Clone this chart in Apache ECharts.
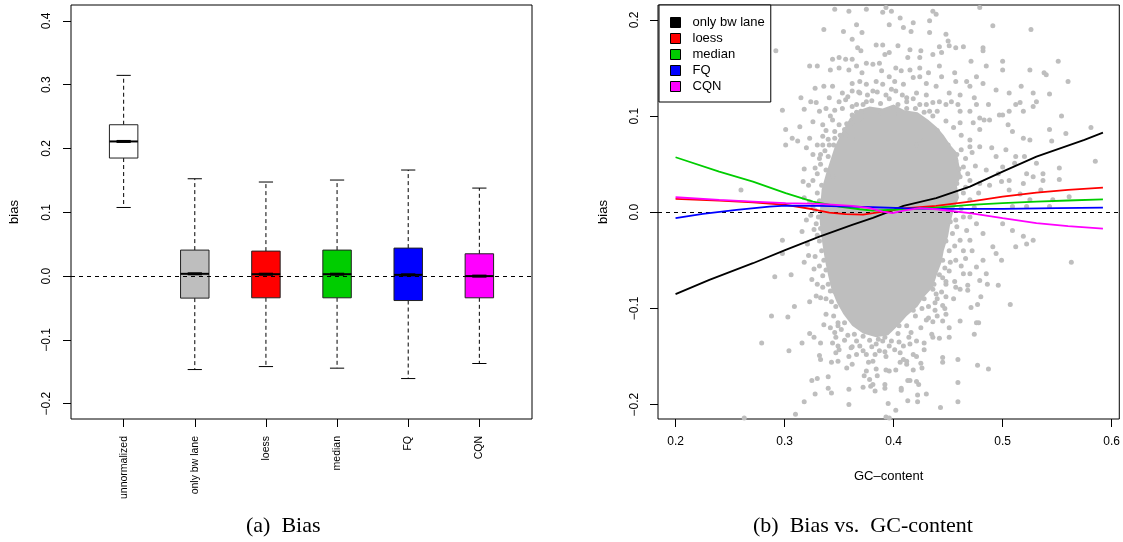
<!DOCTYPE html>
<html>
<head>
<meta charset="utf-8">
<script src="https://cdn.jsdelivr.net/npm/echarts@6/dist/echarts.min.js"></script>
<style>
html,body{margin:0;padding:0;background:#fff}
#chart{width:1123px;height:542px}
</style>
</head>
<body>
<div id="chart"></div>
<script>
// ---- panel (a): bias per method ----
var methods = ['unnormalized', 'only bw lane', 'loess', 'median', 'FQ', 'CQN'];
var boxColors = ['#FFFFFF', '#BEBEBE', '#FF0000', '#00CD00', '#0000FF', '#FF00FF'];
var whiskerLow = [0.1076, -0.1465, -0.1418, -0.1443, -0.1606, -0.137];
var quart1     = [0.1851, -0.0345, -0.034, -0.034, -0.0383, -0.034];
var medians    = [0.2111, 0.0036, 0.003, 0.003, 0.002, 0.0];
var quart3     = [0.2373, 0.0408, 0.0392, 0.0408, 0.0439, 0.035];
var whiskerHigh= [0.3147, 0.1526, 0.1475, 0.1506, 0.1663, 0.138];
var biasTicks  = [-0.2, -0.1, 0, 0.1, 0.2, 0.3, 0.4];

// ---- panel (b): bias vs GC-content ----
var gcTicks = [0.2, 0.3, 0.4, 0.5, 0.6];
var biasTicksB = [-0.2, -0.1, 0, 0.1, 0.2];
var lineNames = ['only bw lane', 'loess', 'median', 'FQ', 'CQN'];
var lineColors = ['#000000', '#FF0000', '#00CD00', '#0000FF', '#FF00FF'];

var bwLaneLine = [[0.200,-0.0852],[0.231,-0.0703],[0.271,-0.053],[0.301,-0.0391],[0.332,-0.0253],[0.362,-0.0132],
  [0.381,-0.0058],[0.396,0.0007],[0.409,0.0066],[0.439,0.0146],[0.470,0.0267],[0.500,0.0423],[0.531,0.0578],
  [0.575,0.0752],[0.592,0.0827]];
var loessLine = [[0.200,0.0139],[0.240,0.0121],[0.271,0.0104],[0.301,0.0076],[0.326,0.0031],[0.341,-0.0003],
  [0.356,-0.002],[0.372,-0.0024],[0.381,-0.001],[0.395,0.0015],[0.409,0.004],[0.439,0.0066],[0.470,0.0111],
  [0.500,0.0163],[0.531,0.0205],[0.560,0.0232],[0.592,0.0256]];
var medianLine = [[0.200,0.0572],[0.240,0.0423],[0.271,0.0319],[0.301,0.0198],[0.326,0.0111],[0.350,0.0059],
  [0.369,0.0031],[0.381,0.0017],[0.409,0.0031],[0.439,0.0049],[0.470,0.0076],[0.500,0.0094],[0.531,0.011],
  [0.560,0.0122],[0.592,0.0133]];
var fqLine = [[0.200,-0.0062],[0.225,-0.0017],[0.256,0.0024],[0.286,0.0059],[0.301,0.0069],[0.332,0.0066],
  [0.362,0.0059],[0.381,0.0052],[0.409,0.0042],[0.439,0.0035],[0.500,0.0035],[0.550,0.0042],[0.592,0.0048]];
var cqnLine = [[0.200,0.0156],[0.240,0.0128],[0.271,0.0111],[0.301,0.0094],[0.332,0.0087],[0.362,0.0066],
  [0.378,0.0042],[0.390,0.0007],[0.399,-0.001],[0.409,0.0017],[0.424,0.0042],[0.439,0.0031],[0.470,-0.001],
  [0.500,-0.0062],[0.531,-0.0114],[0.560,-0.0145],[0.592,-0.017]];

// outline of the solid grey core of the point cloud
var cloudCore = [[0.360,0.098],[0.368,0.106],[0.378,0.110],[0.390,0.108],[0.400,0.112],[0.410,0.106],[0.422,0.104],
  [0.432,0.096],[0.440,0.088],[0.446,0.080],[0.452,0.070],[0.458,0.062],[0.460,0.050],[0.462,0.038],[0.458,0.028],
  [0.460,0.015],[0.455,0.002],[0.452,-0.012],[0.450,-0.025],[0.446,-0.040],[0.444,-0.052],[0.440,-0.064],
  [0.436,-0.078],[0.428,-0.088],[0.422,-0.098],[0.412,-0.108],[0.404,-0.118],[0.395,-0.128],[0.384,-0.130],
  [0.372,-0.126],[0.362,-0.118],[0.354,-0.106],[0.348,-0.094],[0.343,-0.080],[0.340,-0.066],[0.337,-0.050],
  [0.335,-0.035],[0.333,-0.020],[0.332,-0.005],[0.333,0.010],[0.334,0.024],[0.338,0.040],[0.342,0.054],
  [0.346,0.068],[0.352,0.082]];

// individual points outside the core
var gcPoints = [
  [0.346,0.211],[0.359,0.209],[0.375,0.211],[0.336,0.190],[0.354,0.188],[0.366,0.195],[0.371,0.187],[0.362,0.180],
  [0.292,0.168],[0.367,0.171],[0.370,0.168],[0.344,0.159],[0.350,0.161],[0.356,0.159],[0.362,0.159],[0.366,0.152],
  [0.375,0.155],[0.323,0.152],[0.330,0.152],[0.342,0.148],[0.350,0.150],[0.359,0.148],[0.371,0.145],[0.362,0.134],
  [0.369,0.136],[0.375,0.133],[0.328,0.129],[0.336,0.131],[0.344,0.131],[0.353,0.124],[0.362,0.126],[0.369,0.124],
  [0.376,0.122],[0.315,0.119],[0.324,0.115],[0.329,0.114],[0.341,0.119],[0.350,0.115],[0.356,0.117],[0.366,0.112],
  [0.375,0.115],[0.298,0.106],[0.318,0.107],[0.332,0.105],[0.338,0.108],[0.346,0.106],[0.353,0.108],[0.362,0.101],
  [0.370,0.105],[0.301,0.086],[0.314,0.089],[0.326,0.094],[0.335,0.091],[0.344,0.096],[0.350,0.091],[0.355,0.086],
  [0.362,0.093],[0.372,0.094],[0.307,0.077],[0.323,0.077],[0.335,0.079],[0.346,0.077],[0.356,0.080],[0.366,0.077],
  [0.393,0.213],[0.398,0.209],[0.390,0.208],[0.436,0.209],[0.439,0.206],[0.479,0.213],[0.491,0.194],[0.526,0.190],
  [0.396,0.195],[0.406,0.202],[0.409,0.192],[0.418,0.197],[0.416,0.188],[0.433,0.199],[0.433,0.187],[0.448,0.185],
  [0.450,0.178],[0.451,0.173],[0.457,0.171],[0.464,0.172],[0.482,0.171],[0.482,0.168],[0.384,0.174],[0.390,0.174],
  [0.404,0.173],[0.415,0.169],[0.425,0.168],[0.442,0.172],[0.392,0.164],[0.396,0.166],[0.413,0.161],[0.424,0.161],
  [0.436,0.164],[0.444,0.166],[0.471,0.157],[0.485,0.152],[0.500,0.157],[0.500,0.148],[0.525,0.148],[0.538,0.145],
  [0.540,0.143],[0.551,0.157],[0.560,0.136],[0.381,0.154],[0.387,0.155],[0.389,0.147],[0.402,0.150],[0.407,0.147],
  [0.415,0.148],[0.424,0.150],[0.432,0.145],[0.442,0.152],[0.444,0.141],[0.456,0.145],[0.457,0.136],[0.467,0.136],
  [0.476,0.141],[0.482,0.134],[0.470,0.131],[0.494,0.127],[0.506,0.124],[0.517,0.131],[0.528,0.124],[0.543,0.123],
  [0.384,0.136],[0.390,0.133],[0.396,0.141],[0.401,0.136],[0.409,0.133],[0.418,0.140],[0.424,0.141],[0.430,0.134],
  [0.439,0.131],[0.451,0.124],[0.461,0.122],[0.453,0.115],[0.459,0.112],[0.474,0.119],[0.476,0.112],[0.487,0.112],
  [0.497,0.101],[0.500,0.101],[0.506,0.105],[0.512,0.112],[0.516,0.114],[0.519,0.105],[0.528,0.110],[0.531,0.115],
  [0.554,0.100],[0.381,0.126],[0.393,0.122],[0.402,0.126],[0.412,0.119],[0.421,0.124],[0.430,0.122],[0.436,0.114],
  [0.442,0.115],[0.448,0.112],[0.424,0.112],[0.433,0.105],[0.412,0.108],[0.461,0.105],[0.470,0.105],[0.479,0.098],
  [0.483,0.096],[0.488,0.096],[0.473,0.093],[0.461,0.093],[0.479,0.086],[0.505,0.091],[0.509,0.084],[0.519,0.077],
  [0.525,0.075],[0.543,0.086],[0.558,0.082],[0.545,0.074],
  [0.301,0.070],[0.312,0.074],[0.320,0.067],[0.335,0.070],[0.341,0.070],[0.333,0.060],[0.317,0.032],[0.260,0.023],
  [0.323,0.011],[0.330,0.020],[0.329,-0.012],[0.333,-0.017],[0.330,-0.024],[0.298,-0.029],[0.298,-0.043],
  [0.321,-0.033],[0.327,-0.059],[0.291,-0.067],[0.306,-0.065],[0.338,0.044],[0.344,0.037],
  [0.421,0.070],[0.428,0.074],[0.470,0.068],[0.479,0.068],[0.490,0.067],[0.494,0.058],[0.503,0.065],[0.512,0.058],
  [0.520,0.058],[0.531,0.051],[0.537,0.040],[0.552,0.046],[0.552,0.034],[0.522,0.040],[0.511,0.051],[0.500,0.047],
  [0.496,0.040],[0.485,0.044],[0.479,0.030],[0.488,0.028],[0.499,0.032],[0.506,0.033],[0.519,0.030],[0.528,0.037],
  [0.537,0.033],[0.506,0.023],[0.516,0.019],[0.525,0.013],[0.535,0.023],[0.543,0.006],[0.546,0.013],[0.561,0.016],
  [0.522,0.006],[0.509,0.006],[0.500,-0.012],[0.509,-0.019],[0.519,-0.025],[0.528,-0.029],[0.512,-0.036],
  [0.522,-0.033],[0.491,-0.036],[0.494,-0.043],[0.499,-0.050],[0.482,-0.050],[0.476,-0.057],[0.470,-0.064],
  [0.485,-0.064],[0.563,-0.052],[0.464,-0.040],[0.470,-0.029],[0.467,-0.019],[0.476,-0.012],[0.482,-0.022],
  [0.457,0.054],[0.464,0.047],[0.461,0.037],[0.470,0.033],[0.454,0.023],[0.464,0.020],[0.470,0.013],[0.457,-0.008],
  [0.464,-0.005],[0.454,-0.022],[0.461,-0.029],[0.451,-0.040],[0.457,-0.050],[0.451,-0.061],[0.464,-0.064],
  [0.445,-0.068],
  [0.335,-0.078],[0.329,-0.087],[0.333,-0.089],[0.338,-0.090],[0.323,-0.093],[0.309,-0.098],[0.288,-0.108],
  [0.303,-0.109],[0.338,-0.106],[0.336,-0.117],[0.349,-0.115],[0.349,-0.118],[0.323,-0.126],[0.327,-0.130],
  [0.333,-0.136],[0.346,-0.125],[0.347,-0.130],[0.344,-0.136],[0.316,-0.136],[0.279,-0.136],[0.304,-0.144],
  [0.332,-0.149],[0.333,-0.153],[0.349,-0.139],[0.347,-0.146],[0.350,-0.143],[0.343,-0.156],[0.349,-0.155],
  [0.357,-0.162],[0.362,-0.158],[0.359,-0.150],[0.366,-0.148],[0.372,-0.144],[0.361,-0.141],[0.369,-0.139],
  [0.325,-0.175],[0.330,-0.173],[0.340,-0.171],[0.340,-0.183],[0.343,-0.188],[0.328,-0.189],[0.318,-0.197],
  [0.359,-0.184],[0.359,-0.200],[0.310,-0.210],[0.263,-0.214],[0.373,-0.170],[0.378,-0.174],[0.372,-0.182],
  [0.379,-0.181],[0.377,-0.156],[0.375,-0.165],
  [0.448,-0.075],[0.457,-0.078],[0.461,-0.080],[0.468,-0.076],[0.468,-0.081],[0.479,-0.071],[0.486,-0.075],
  [0.496,-0.076],[0.480,-0.088],[0.477,-0.096],[0.471,-0.099],[0.507,-0.096],[0.436,-0.080],[0.439,-0.085],
  [0.444,-0.083],[0.448,-0.088],[0.438,-0.094],[0.445,-0.097],[0.438,-0.102],[0.448,-0.106],[0.430,-0.112],
  [0.436,-0.114],[0.445,-0.113],[0.451,-0.120],[0.461,-0.113],[0.476,-0.115],[0.478,-0.115],[0.474,-0.127],
  [0.435,-0.127],[0.436,-0.130],[0.442,-0.131],[0.451,-0.130],[0.428,-0.143],[0.445,-0.151],[0.445,-0.156],
  [0.459,-0.153],[0.477,-0.159],[0.487,-0.163],[0.459,-0.177],[0.459,-0.197],[0.443,-0.203],[0.430,-0.189],
  [0.422,-0.190],[0.423,-0.179],[0.421,-0.176],[0.413,-0.175],[0.415,-0.175],[0.407,-0.183],[0.407,-0.185],
  [0.413,-0.196],[0.422,-0.197],[0.425,-0.157],[0.426,-0.162],[0.418,-0.164],[0.412,-0.158],[0.409,-0.153],
  [0.406,-0.156],[0.402,-0.164],[0.396,-0.165],[0.393,-0.164],[0.384,-0.163],[0.385,-0.170],[0.392,-0.179],
  [0.392,-0.183],[0.383,-0.186],[0.381,-0.179],[0.395,-0.199],[0.402,-0.206],[0.393,-0.213],[0.396,-0.214],
  [0.418,-0.148],[0.421,-0.150],[0.412,-0.155],[0.406,-0.146],[0.401,-0.143],[0.409,-0.139],[0.415,-0.137],
  [0.421,-0.134],[0.428,-0.136],[0.381,-0.155],[0.383,-0.148],[0.387,-0.144],[0.393,-0.150],[0.396,-0.139],
  [0.384,-0.137],[0.390,-0.134],
  [0.581,0.088],[0.585,0.053],
  [0.333,0.050],[0.330,0.040],[0.334,0.028],[0.328,0.002],[0.331,-0.005],[0.334,-0.040],[0.336,-0.050],
  [0.338,-0.060],[0.335,-0.066],[0.340,0.058],[0.345,0.070],[0.351,0.080],[0.357,0.092],[0.372,0.100],
  [0.388,0.103],[0.405,0.102],[0.425,0.097],[0.440,0.085],[0.450,0.070],[0.458,0.060],[0.460,0.045],
  [0.458,0.030],[0.455,0.010],[0.452,-0.010],[0.448,-0.030],[0.445,-0.050],[0.442,-0.065],[0.437,-0.075],
  [0.428,-0.090],[0.418,-0.102],[0.405,-0.118],[0.392,-0.130],[0.378,-0.133],[0.364,-0.127],[0.355,-0.115],
  [0.347,-0.098],[0.342,-0.082],
  [0.362,0.110],[0.372,0.112],[0.380,0.116],[0.388,0.113],[0.396,0.118],[0.404,0.112],[0.412,0.115],[0.420,0.108],
  [0.428,0.104],[0.436,0.100],[0.366,0.104],[0.400,0.109],
  [0.346,0.084],[0.340,0.076],[0.337,0.064],[0.332,0.056],[0.328,0.046],[0.326,0.033],[0.332,0.012],[0.326,0.006],
  [0.324,-0.003],[0.327,-0.018],[0.332,-0.030],[0.328,-0.046],[0.332,-0.056],[0.340,-0.075],[0.345,-0.082],
  [0.343,-0.093],
  [0.462,0.065],[0.466,0.056],[0.468,0.040],[0.466,0.026],[0.462,0.004],[0.458,-0.015],[0.456,-0.035],[0.452,-0.052],
  [0.447,-0.058],[0.448,-0.072],[0.440,-0.090],[0.432,-0.098],
  [0.352,-0.122],[0.358,-0.128],[0.366,-0.134],[0.372,-0.129],[0.380,-0.140],[0.386,-0.132],[0.398,-0.134],
  [0.404,-0.126],[0.412,-0.118],[0.420,-0.108],[0.426,-0.100],[0.416,-0.125],
  [0.318,0.045],[0.322,0.028],[0.318,0.015],[0.320,-0.008],[0.316,-0.020],[0.322,-0.045],[0.318,-0.052],
  [0.325,-0.070],[0.330,-0.075],[0.326,0.060],[0.330,0.070],[0.338,0.085],[0.342,0.100],
  [0.358,0.120],[0.368,0.125],[0.385,0.125],[0.398,0.128],[0.408,0.122],[0.418,0.118],[0.430,0.112],[0.440,0.105],
  [0.448,0.095],[0.455,0.088],[0.462,0.080],[0.470,0.075],
  [0.472,0.062],[0.475,0.048],[0.478,0.020],[0.474,0.005],[0.470,-0.005],[0.472,-0.040],[0.466,-0.048],
  [0.462,-0.056],[0.456,-0.072],[0.455,-0.090],[0.447,-0.100],[0.440,-0.108],
  [0.345,-0.108],[0.342,-0.120],[0.355,-0.133],[0.362,-0.140],[0.375,-0.148],[0.392,-0.145],[0.405,-0.135],
  [0.414,-0.130],[0.425,-0.120],[0.432,-0.110]
];

var sans = 'Liberation Sans, Arial, sans-serif';
var serif = 'Liberation Serif, Times New Roman, serif';

function fmtNum(v) {
  return (v < 0 ? '\u2212' : '') + Math.abs(v).toFixed(1);
}

var boxData = methods.map(function (m, i) {
  return [i + 1, whiskerLow[i], quart1[i], medians[i], quart3[i], whiskerHigh[i]];
});

function renderBox(params, api) {
  var x = api.value(0);
  var cLo = api.coord([x, api.value(1)]);
  var cQ1 = api.coord([x, api.value(2)]);
  var cMd = api.coord([x, api.value(3)]);
  var cQ3 = api.coord([x, api.value(4)]);
  var cHi = api.coord([x, api.value(5)]);
  var w = api.size([1, 0])[0] * 0.4;
  var cx = cMd[0];
  var dash = { stroke: '#000', lineWidth: 1, lineDash: [4, 3] };
  var solid = { stroke: '#000', lineWidth: 1 };
  return {
    type: 'group',
    children: [
      { type: 'line', shape: { x1: cx, y1: cQ3[1], x2: cx, y2: cHi[1] }, style: dash },
      { type: 'line', shape: { x1: cx, y1: cQ1[1], x2: cx, y2: cLo[1] }, style: dash },
      { type: 'line', shape: { x1: cx - w / 4, y1: cHi[1], x2: cx + w / 4, y2: cHi[1] }, style: solid },
      { type: 'line', shape: { x1: cx - w / 4, y1: cLo[1], x2: cx + w / 4, y2: cLo[1] }, style: solid },
      { type: 'rect', shape: { x: cx - w / 2, y: cQ3[1], width: w, height: cQ1[1] - cQ3[1] },
        style: { fill: boxColors[params.dataIndex], stroke: '#222', lineWidth: 1 } },
      { type: 'line', shape: { x1: cx - w / 2, y1: cMd[1], x2: cx + w / 2, y2: cMd[1] },
        style: { stroke: '#000', lineWidth: 2 } },
      { type: 'line', shape: { x1: cx - w / 4, y1: cMd[1], x2: cx + w / 4, y2: cMd[1] },
        style: { stroke: '#000', lineWidth: 3 } }
    ]
  };
}

function renderCore(params, api) {
  var pts = cloudCore.map(function (p) { return api.coord(p); });
  return { type: 'polygon', shape: { points: pts }, style: { fill: '#BEBEBE' } };
}

var axisText = { color: '#000', fontFamily: sans, fontSize: 12 };

var lineSeries = [bwLaneLine, loessLine, medianLine, fqLine, cqnLine].map(function (d, i) {
  return {
    name: lineNames[i], type: 'line', xAxisIndex: 1, yAxisIndex: 1, data: d,
    showSymbol: false, symbol: 'none', z: 5, animation: false,
    lineStyle: { color: lineColors[i], width: 1.8 }, itemStyle: { color: lineColors[i] }
  };
});

var chart = echarts.init(document.getElementById('chart'), null, { renderer: 'canvas' });
chart.setOption({
  animation: false,
  backgroundColor: '#fff',
  grid: [
    { left: 71, right: 591, top: 5, bottom: 123, show: true, borderColor: '#000', borderWidth: 1, backgroundColor: 'transparent' },
    { left: 658, right: 3, top: 5, bottom: 123, show: true, borderColor: '#000', borderWidth: 1, backgroundColor: 'transparent' }
  ],
  xAxis: [
    { type: 'value', gridIndex: 0, min: 0.26, max: 6.74,
      axisLine: { show: false, onZero: false }, splitLine: { show: false },
      axisTick: { show: true, length: 8, customValues: [1, 2, 3, 4, 5, 6], lineStyle: { color: '#000' } },
      axisLabel: { rotate: 90, margin: 17, customValues: [1, 2, 3, 4, 5, 6], color: '#000', fontFamily: sans, fontSize: 10.5,
        formatter: function (v) { return methods[Math.round(v) - 1]; } } },
    { type: 'value', gridIndex: 1, min: 0.1839, max: 0.607,
      name: 'GC\u2013content', nameLocation: 'middle', nameGap: 51,
      nameTextStyle: { color: '#000', fontFamily: sans, fontSize: 13 },
      axisLine: { show: false, onZero: false }, splitLine: { show: false },
      axisTick: { show: true, length: 8, customValues: gcTicks, lineStyle: { color: '#000' } },
      axisLabel: Object.assign({ margin: 17, customValues: gcTicks, formatter: fmtNum }, axisText) }
  ],
  yAxis: [
    { type: 'value', gridIndex: 0, min: -0.224, max: 0.425,
      name: 'bias', nameLocation: 'middle', nameGap: 50, nameRotate: 90,
      nameTextStyle: { color: '#000', fontFamily: sans, fontSize: 13 },
      axisLine: { show: false, onZero: false }, splitLine: { show: false },
      axisTick: { show: true, length: 8, customValues: biasTicks, lineStyle: { color: '#000' } },
      axisLabel: Object.assign({ rotate: 90, margin: 18, customValues: biasTicks, formatter: fmtNum }, axisText) },
    { type: 'value', gridIndex: 1, min: -0.215, max: 0.2155,
      name: 'bias', nameLocation: 'middle', nameGap: 48, nameRotate: 90,
      nameTextStyle: { color: '#000', fontFamily: sans, fontSize: 13 },
      axisLine: { show: false, onZero: false }, splitLine: { show: false },
      axisTick: { show: true, length: 8, customValues: biasTicksB, lineStyle: { color: '#000' } },
      axisLabel: Object.assign({ rotate: 90, margin: 17, customValues: biasTicksB, formatter: fmtNum }, axisText) }
  ],
  legend: {
    data: lineNames, orient: 'vertical', left: 659, top: 5, icon: 'rect',
    itemWidth: 10, itemHeight: 10, itemGap: 3,
    padding: [11, 6, 9, 11], borderColor: '#000', borderWidth: 1, borderRadius: 0, backgroundColor: '#fff',
    itemStyle: { borderColor: '#000', borderWidth: 1 },
    textStyle: { color: '#000', fontFamily: sans, fontSize: 13, padding: [0, 0, 0, 7] },
    selectedMode: false
  },
  graphic: [
    { type: 'text', left: 286 - 40, top: 515, style: { text: '(a)\u2002Bias', fill: '#000', font: '22px ' + serif } },
    { type: 'text', left: 873 - 120, top: 515, style: { text: '(b)\u2002Bias vs.\u2002GC-content', fill: '#000', font: '22px ' + serif } }
  ],
  series: [
    { type: 'custom', xAxisIndex: 0, yAxisIndex: 0, data: boxData, renderItem: renderBox, z: 3,
      markLine: { silent: true, symbol: 'none', label: { show: false },
        lineStyle: { color: '#000', type: [4, 4], width: 1 }, data: [{ yAxis: 0 }] } },
    { type: 'custom', xAxisIndex: 1, yAxisIndex: 1, data: [[0.4, 0]], renderItem: renderCore, z: 1, clip: true },
    { type: 'scatter', xAxisIndex: 1, yAxisIndex: 1, data: gcPoints, symbolSize: 5, z: 1, clip: true,
      itemStyle: { color: '#BEBEBE', opacity: 1 },
      markLine: { silent: true, symbol: 'none', label: { show: false }, z: 4,
        lineStyle: { color: '#000', type: [4, 4], width: 1 }, data: [{ yAxis: 0 }] } }
  ].concat(lineSeries)
});
</script>
</body>
</html>
